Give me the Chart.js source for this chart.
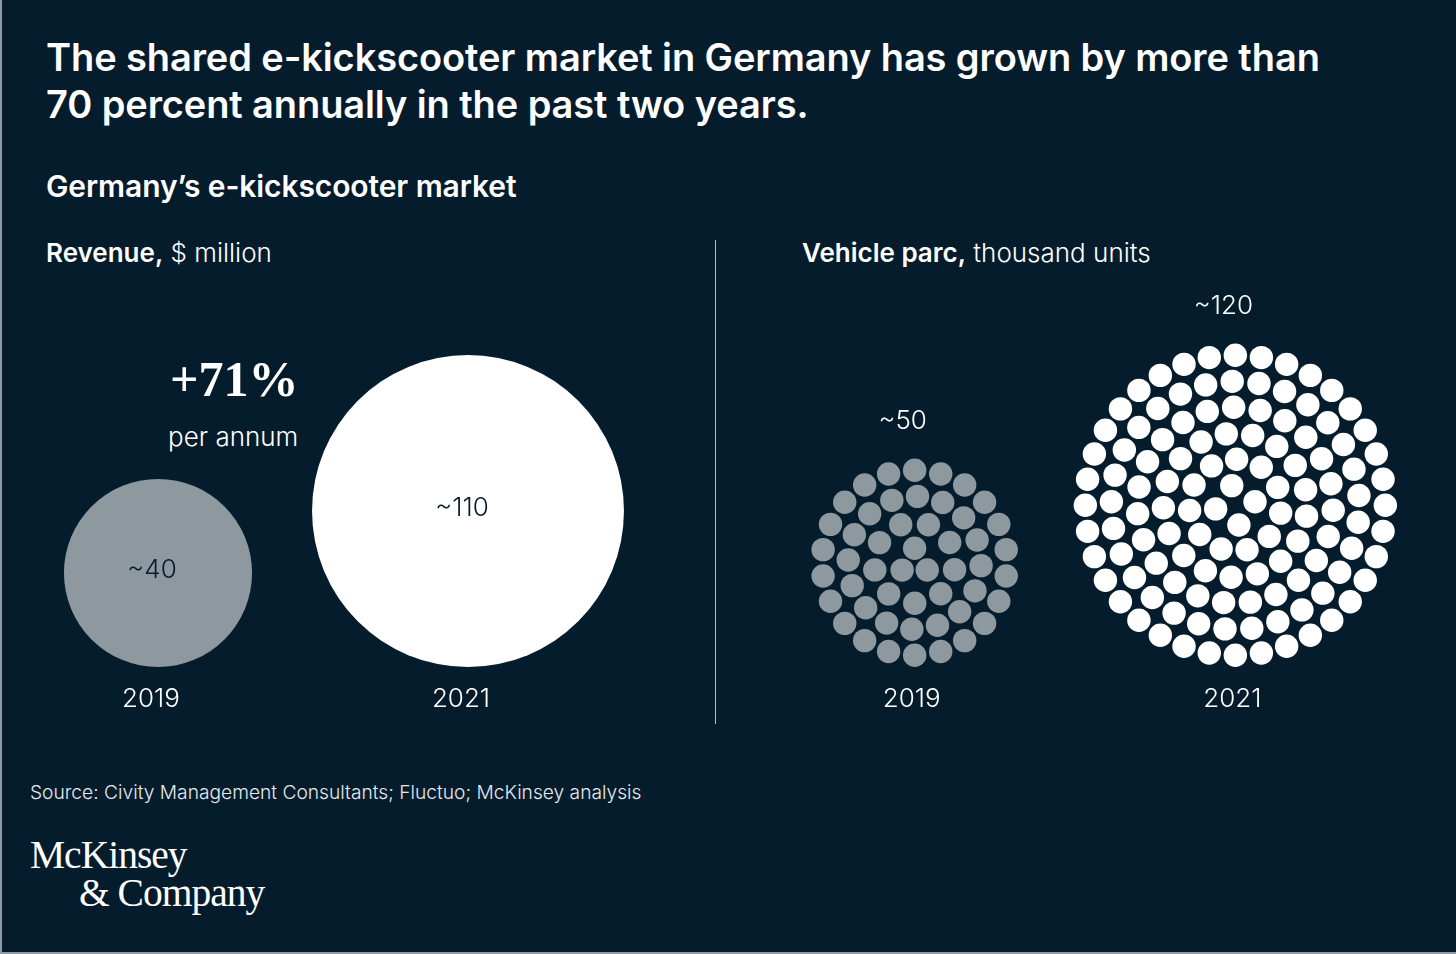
<!DOCTYPE html>
<html>
<head>
<meta charset="utf-8">
<script src="https://cdn.jsdelivr.net/npm/chart.js@4"></script>
<style>
  html, body { margin: 0; padding: 0; }
  body {
    width: 1456px; height: 954px; position: relative; overflow: hidden;
    background: #051c2c; color: #fff; font-family: "Inter", "Noto Sans", sans-serif;
  }
  .frame { position: absolute; left: 0; top: 0; width: 1454px; height: 952px;
    border-left: 2px solid #8f9aa2; border-bottom: 2px solid #8f9aa2; box-sizing: content-box; }
  .abs { position: absolute; white-space: nowrap; }
  #title { left: 46px; top: 34px; font-size: 38px; font-weight: 600; line-height: 47px; letter-spacing: -0.1px; }
  #subtitle { left: 46px; top: 168px; font-size: 30px; font-weight: 600; letter-spacing: -0.1px; }
  .panel { top: 237px; font-size: 26px; font-weight: 300; }
  .panel b { font-weight: 600; }
  #growth { left: 170px; top: 350px; font-family: "Liberation Serif", serif; font-weight: 700; font-size: 50px; }
  #perannum { left: 168px; top: 421px; font-size: 26px; font-weight: 300; }
  #divider { left: 715px; top: 240px; width: 1px; height: 484px; background: #b8c0c6; }
  #source { left: 30px; top: 780px; font-size: 19.2px; font-weight: 300; color: #e6eaed; }
  #logo { left: 30px; top: 836px; font-family: "Liberation Serif", serif; font-size: 39.5px; line-height: 38px; letter-spacing: -1px; }
  #logo span { display: block; }
  #logo span + span { margin-left: 49px; }
  canvas { position: absolute; }
</style>
</head>
<body>
<div class="frame"></div>
<div id="title" class="abs">The shared e-kickscooter market in Germany has grown by more than<br>70 percent annually in the past two years.</div>
<div id="subtitle" class="abs">Germany’s e-kickscooter market</div>
<div class="abs panel" style="left:46px"><b>Revenue,</b> $ million</div>
<div class="abs panel" style="left:802px"><b>Vehicle parc,</b> thousand units</div>
<div id="growth" class="abs">+71%</div>
<div id="perannum" class="abs">per annum</div>
<div id="divider" class="abs"></div>
<div id="source" class="abs">Source: Civity Management Consultants; Fluctuo; McKinsey analysis</div>
<div id="logo" class="abs"><span>McKinsey</span><span>&amp; Company</span></div>

<canvas id="revenueChart" style="left:3px; top:270px" width="775" height="450"></canvas>
<canvas id="parcChart" style="left:594px; top:270px" width="962" height="450"></canvas>

<script>
// Dados
const years = ['2019', '2021'];
const revenue = [40, 110];          // $ million
const vehicleParc = [50, 120];      // thousand units (1 ponto = 1 mil)
const revenueLabels = ['~40', '~110'];
const parcLabels = ['~50', '~120'];

const bg = '#051c2c';
const colors = ['#8d989f', '#ffffff'];

// Tamanhos
const AXIS_H = 53;
const BUBBLE_K = 14.87;   // raio = K * sqrt(valor)
const DOT_PITCH = 26;
const DOT_R = 11.7;
const LABEL_FONT = '300 26px Inter, "Noto Sans", sans-serif';

Chart.defaults.font.family = 'Inter, "Noto Sans", sans-serif';
Chart.defaults.animation = false;

function yearAxis(min, max, shift) {
    return {
        type: 'linear', min, max,
        afterBuildTicks: s => { s.ticks = years.map((_, i) => ({ value: i })); },
        afterFit: s => { s.height = AXIS_H; },
        grid: { display: false }, border: { display: false },
        ticks: {
            padding: 9, color: '#fff', labelOffset: shift,
            font: { size: 26, weight: 300 }, callback: v => years[v]
        }
    };
}

function baseOptions(plotH, xMin, xMax, shift) {
    return {
        responsive: false,
        events: [],
        layout: { padding: 0, autoPadding: false },
        plugins: { legend: { display: false }, tooltip: { enabled: false } },
        scales: {
            x: yearAxis(xMin, xMax, shift),
            y: { display: false, min: 0, max: plotH }
        }
    };
}

// Gráfico de bolhas - receita
function initRevenue() {
    const canvas = document.getElementById('revenueChart');
    const plotH = canvas.height - AXIS_H;
    const radii = revenue.map(v => BUBBLE_K * Math.sqrt(v));

    const labelPlugin = {
        id: 'bubbleLabels',
        afterDatasetsDraw(chart) {
            const ctx = chart.ctx;
            chart.getDatasetMeta(0).data.forEach((el, i) => {
                ctx.save();
                ctx.fillStyle = bg;
                ctx.font = LABEL_FONT;
                ctx.textAlign = 'center';
                ctx.textBaseline = 'middle';
                ctx.fillText(revenueLabels[i], el.x - 6, el.y - 3);
                ctx.restore();
            });
        }
    };

    new Chart(canvas, {
        type: 'bubble',
        data: {
            datasets: [{
                data: revenue.map((v, i) => ({ x: i, y: radii[i], r: radii[i] })),
                backgroundColor: colors,
                borderWidth: 0,
                clip: false
            }]
        },
        options: baseOptions(plotH, -0.5, 2, -7),
        plugins: [labelPlugin]
    });
}

// Posições dos pontos em anéis concêntricos (um ponto por mil unidades)
function ringLayout(n) {
    const rings = R => {
        const out = [];
        for (let r = R; r > DOT_PITCH * 0.3; r -= DOT_PITCH) {
            out.push({ r, cap: Math.max(1, Math.floor(2 * Math.PI * r / DOT_PITCH)) });
        }
        return out;
    };
    let R = DOT_PITCH * 0.5;
    while (rings(R).reduce((s, g) => s + g.cap, 0) < n) R += 0.5;
    const list = rings(R);
    const pts = [];
    let left = n;
    list.forEach((g, j) => {
        const count = Math.min(g.cap, left);
        left -= count;
        for (let k = 0; k < count; k++) {
            const a = -Math.PI / 2 + j * 0.35 + 2 * Math.PI * k / count;
            pts.push({ dx: g.r * Math.cos(a), dy: g.r * Math.sin(a) });
        }
    });
    return { R, pts };
}

// Gráfico de pontos - frota
function initParc() {
    const canvas = document.getElementById('parcChart');
    const plotH = canvas.height - AXIS_H;
    const xMin = -1, xMax = 2;
    const unitsPerPx = (xMax - xMin) / canvas.width;
    const layouts = vehicleParc.map(ringLayout);

    const datasets = layouts.map((lay, i) => {
        const outer = lay.R + DOT_R;
        return {
            data: lay.pts.map(p => ({ x: i + p.dx * unitsPerPx, y: outer + p.dy })),
            pointRadius: DOT_R,
            pointBackgroundColor: colors[i],
            pointBorderWidth: 0,
            clip: false
        };
    });

    const labelPlugin = {
        id: 'clusterLabels',
        afterDatasetsDraw(chart) {
            const ctx = chart.ctx;
            layouts.forEach((lay, i) => {
                const top = chart.scales.y.getPixelForValue(2 * (lay.R + DOT_R));
                const x = chart.scales.x.getPixelForValue(i);
                ctx.save();
                ctx.fillStyle = '#fff';
                ctx.font = LABEL_FONT;
                ctx.textAlign = 'center';
                ctx.textBaseline = 'middle';
                ctx.fillText(parcLabels[i], x - 12, top - 37);
                ctx.restore();
            });
        }
    };

    new Chart(canvas, {
        type: 'scatter',
        data: { datasets },
        options: baseOptions(plotH, xMin, xMax, -3),
        plugins: [labelPlugin]
    });
}

document.addEventListener('DOMContentLoaded', () => {
    initRevenue();
    initParc();
});
</script>
</body>
</html>
